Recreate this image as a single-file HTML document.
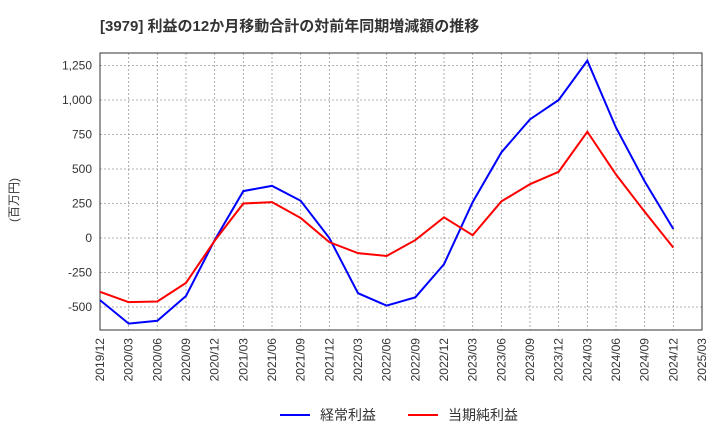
<!DOCTYPE html>
<html><head><meta charset="utf-8"><style>
body{margin:0;background:#fff;font-family:"Liberation Sans","Noto Sans CJK JP",sans-serif;}
</style></head><body>
<svg width="720" height="440" xmlns="http://www.w3.org/2000/svg" style="font-family:'Liberation Sans','Noto Sans CJK JP',sans-serif">
<text x="100" y="31" font-size="15" font-weight="bold" fill="#333">[3979]  利益の12か月移動合計の対前年同期増減額の推移</text>
<text transform="translate(18,200) rotate(-90)" font-size="12" fill="#333" text-anchor="middle">(百万円)</text>
<g id="grid"></g>
<g id="axes"></g>
<g id="series"></g>
<g>
<line x1="280" y1="415" x2="310" y2="415" stroke="#0000ff" stroke-width="2"/>
<text x="320" y="420" font-size="14" fill="#333">経常利益</text>
<line x1="408" y1="415" x2="438" y2="415" stroke="#ff0000" stroke-width="2"/>
<text x="448" y="420" font-size="14" fill="#333">当期純利益</text>
</g>
</svg>
<script>
const categories=["2019/12","2020/03","2020/06","2020/09","2020/12","2021/03","2021/06","2021/09","2021/12","2022/03","2022/06","2022/09","2022/12","2023/03","2023/06","2023/09","2023/12","2024/03","2024/06","2024/09","2024/12","2025/03"];
const ordinaryProfit=[-450,-620,-600,-420,-15,340,378,270,0,-400,-490,-430,-190,260,620,860,1000,1285,800,410,65];
const netProfit=[-390,-465,-460,-325,-20,250,260,145,-30,-110,-130,-15,150,20,265,390,480,770,460,190,-70];
const yTicks=[-500,-250,0,250,500,750,1000,1250];
const yTickLabels=["-500","-250","0","250","500","750","1,000","1,250"];
const NS="http://www.w3.org/2000/svg";
const L=100,R=702,T=53,B=330;
function xs(i){return L+i*(R-L)/(categories.length-1);}
function ys(v){return 238-v*34.5/250;}
function mk(tag,attrs,parent){const e=document.createElementNS(NS,tag);for(const k in attrs)e.setAttribute(k,attrs[k]);parent.appendChild(e);return e;}
const grid=document.getElementById('grid'),axes=document.getElementById('axes'),series=document.getElementById('series');
yTicks.forEach((v,i)=>{
 const g=mk('line',{x1:L,x2:R,y1:ys(v),y2:ys(v),stroke:'#999','stroke-dasharray':'2,2','stroke-width':0.8},grid);
 
 
 const t=mk('text',{x:L-8,y:ys(v)+4,'text-anchor':'end','font-size':12,fill:'#333'},axes);
 t.textContent=yTickLabels[i];
 
 
});
categories.forEach((c,i)=>{
 const x=xs(i);
 const g=mk('line',{x1:x,x2:x,y1:T,y2:B,stroke:'#999','stroke-dasharray':'2,2','stroke-width':0.8},grid);
 
 
 const t=mk('text',{transform:`translate(${x+4},${B+8}) rotate(-90)`,'text-anchor':'end','font-size':12,fill:'#333'},axes);
 t.textContent=c;
 
 
});
const frame=mk('rect',{x:L,y:T,width:R-L,height:B-T,fill:'none',stroke:'#333','stroke-width':1},axes);


function line(data,color,name){
 const p=mk('polyline',{points:data.map((v,i)=>xs(i)+','+ys(v)).join(' '),fill:'none',stroke:color,'stroke-width':2},series);
 
 
}
line(ordinaryProfit,'#0000ff','ordinary-profit-line');
line(netProfit,'#ff0000','net-profit-line');
</script>
</body></html>
